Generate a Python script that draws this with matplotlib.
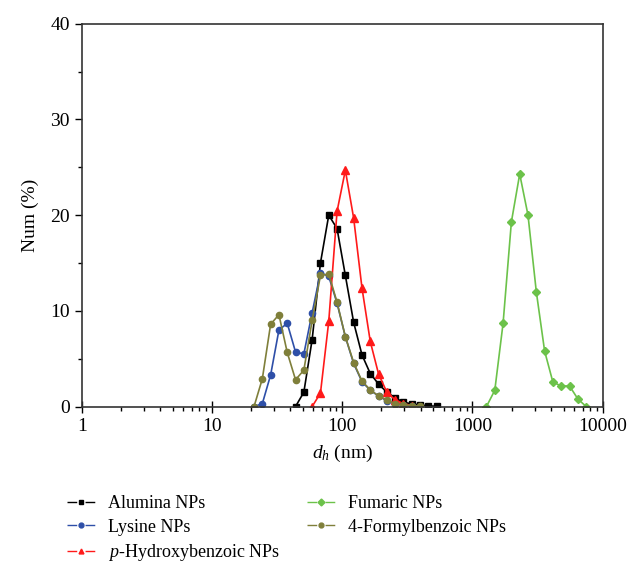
import numpy as np
import matplotlib
matplotlib.use("Agg")
import matplotlib.pyplot as plt
from matplotlib.lines import Line2D
from matplotlib.ticker import LogLocator, MultipleLocator, NullFormatter

plt.rcParams['font.family'] = ['Liberation Serif', 'DejaVu Serif']
plt.rcParams['mathtext.fontset'] = 'custom'
plt.rcParams['mathtext.rm'] = 'Liberation Serif'
plt.rcParams['mathtext.it'] = 'Liberation Serif:italic'

# size bins (nm) and number distributions (%)
alumina_d = [43.82, 50.75, 58.77, 68.06, 78.82, 91.28, 105.7, 122.4, 141.8, 164.2,
             190.1, 220.2, 255.0, 295.3, 342.0, 396.1, 458.7, 531.2]
alumina_n = [0.0, 1.5, 7.0, 15.0, 20.0, 18.6, 13.7, 8.8, 5.4, 3.45,
             2.35, 1.5, 0.9, 0.45, 0.28, 0.18, 0.07, 0.03]

lysine_d = [21.04, 24.36, 28.21, 32.67, 37.84, 43.82, 50.75, 58.77, 68.06, 78.82,
            91.28, 105.7, 122.4, 141.8, 164.2, 190.1, 220.2, 255.0, 295.3, 342.0]
lysine_n = [0.0, 0.3, 3.3, 8.0, 8.7, 5.7, 5.5, 9.8, 14.0, 13.6,
            10.8, 7.3, 4.5, 2.6, 1.7, 1.1, 0.6, 0.3, 0.15, 0.05]

phb_d = [58.77, 68.06, 78.82, 91.28, 105.7, 122.4, 141.8, 164.2, 190.1, 220.2,
         255.0, 295.3, 342.0, 396.1]
phb_n = [0.0, 1.4, 8.9, 20.4, 24.7, 19.7, 12.4, 6.8, 3.4, 1.5,
         0.7, 0.3, 0.1, 0.0]

fumaric_d = [1281, 1484, 1718, 1990, 2305, 2669, 3091, 3580, 4145, 4801,
             5560, 6439, 7456]
fumaric_n = [0.0, 1.7, 8.7, 19.3, 24.3, 20.0, 12.0, 5.8, 2.55, 2.15,
             2.15, 0.8, 0.0]

formyl_d = [21.04, 24.36, 28.21, 32.67, 37.84, 43.82, 50.75, 58.77, 68.06, 78.82,
            91.28, 105.7, 122.4, 141.8, 164.2, 190.1, 220.2, 255.0, 295.3, 342.0, 396.1]
formyl_n = [0.0, 2.9, 8.6, 9.6, 5.65, 2.8, 3.8, 9.0, 13.7, 13.85,
            10.9, 7.3, 4.6, 2.65, 1.75, 1.1, 0.7, 0.25, 0.2, 0.1, 0.05]

labels = ['Alumina NPs', 'Lysine NPs', r'$p$-Hydroxybenzoic NPs',
          'Fumaric NPs', '4-Formylbenzoic NPs']

series = [
    (alumina_d, alumina_n, '#000000', 's', 4.0),
    (lysine_d, lysine_n, '#2E4FA8', 'o', 4.5),
    (phb_d, phb_n, '#FF1A1A', '^', 5.5),
    (fumaric_d, fumaric_n, '#6CC24A', 'D', 4.0),
    (formyl_d, formyl_n, '#7F7F3A', 'o', 4.5),
]

fig = plt.figure(figsize=(6.3, 5.67), dpi=100)
ax = fig.add_axes([0.1297, 0.283, 0.827, 0.675])

handles = []
for (d, n, c, m, ms), lab in zip(series, labels):
    ax.plot(d, n, color=c, marker=m, ms=ms, lw=1.2, mec=c, mfc=c)
    handles.append(Line2D([], [], color=c, lw=1.0, dashes=(7, 6),
                          marker=m, ms=3.5, mec=c, mfc=c))

ax.set_xscale('log')
ax.set_xlim(1, 10000)
ax.set_ylim(0, 40)
ax.xaxis.set_minor_locator(LogLocator(base=10, subs=np.arange(2, 10), numticks=20))
ax.xaxis.set_minor_formatter(NullFormatter())
ax.set_xticks([1, 10, 100, 1000, 10000])
ax.set_xticklabels(['1', '10', '100', '1000', '10000'])
ax.yaxis.set_major_locator(MultipleLocator(10))
ax.yaxis.set_minor_locator(MultipleLocator(5))

ax.tick_params(axis='x', which='major', direction='inout', length=8, width=1,
               labelsize=14, pad=4)
ax.tick_params(axis='x', which='minor', direction='out', length=3, width=1)
ax.tick_params(axis='y', which='major', direction='out', length=5, width=1,
               labelsize=14)
ax.tick_params(axis='y', which='minor', direction='out', length=3, width=1)
for s in ax.spines.values():
    s.set_color('#333333')
    s.set_linewidth(1.2)

ax.set_xlabel(r'$d_h$ (nm)', fontsize=14, labelpad=6)
ax.set_ylabel('Num (%)', fontsize=14, labelpad=8)

fig.legend(handles, labels, loc='upper left', bbox_to_anchor=(0.081, 0.155),
           ncol=2, frameon=False, fontsize=13, handlelength=1.55,
           handletextpad=0.7, columnspacing=1.5, labelspacing=0.35,
           numpoints=1)

fig.savefig('out.png', dpi=100)
